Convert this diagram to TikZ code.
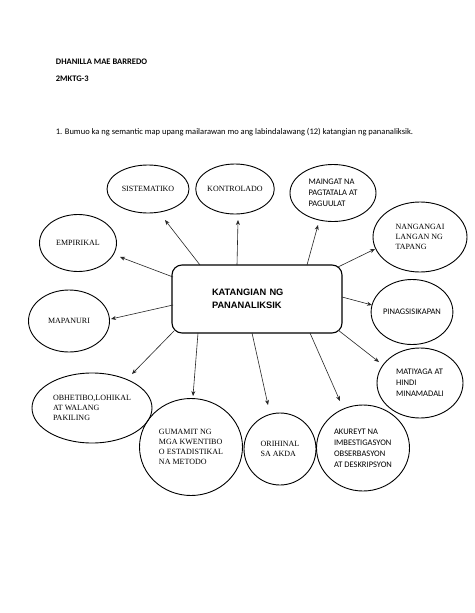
\documentclass[tikz,border=0pt]{standalone}
\usepackage{fontspec}
\setmainfont{Liberation Serif}
\newfontfamily\calib{Carlito}
\newfontfamily\arialf{Liberation Sans}
\usetikzlibrary{shapes.geometric,arrows.meta,calc}
\begin{document}
\begin{tikzpicture}[x=1pt,y=-1pt,
 bub/.style={draw=black, line width=0.9pt, ellipse, inner sep=0pt, align=left},
 serif/.style={font=\fontsize{8}{10}\selectfont},
 sans/.style={font=\calib\fontsize{8.5}{11}\selectfont},
 arr/.style={draw=black!85, line width=0.6pt, -{Stealth[length=5pt,width=4pt]}},
 hdr/.style={anchor=base west, inner sep=0pt, font=\calib\fontsize{8.5}{10}\selectfont},
 hdrb/.style={hdr, font=\calib\bfseries\fontsize{8.5}{10}\selectfont}]
\useasboundingbox[fill=white] (0,0) rectangle (474,613);

\node[hdrb] (name) at (55.7,64.3) {DHANILLA MAE BARREDO};
\node[hdrb] (sec) at (55.7,81.7) {2MKTG-3};
\node[hdr] (ins) at (55.7,134) {1. Bumuo ka ng semantic map upang mailarawan mo ang labindalawang (12) katangian ng pananaliksik.};

\node[draw=black, line width=1.1pt, rounded corners=10pt, minimum width=170pt, minimum height=68pt, text width=90pt, align=left, font=\arialf\bfseries\fontsize{9.3}{13}\selectfont] (c) at (257,299) {KATANGIAN NG\\PANANALIKSIK};

\node[bub,serif,minimum width=82pt,minimum height=48pt] (sis) at (148,189) {SISTEMATIKO};
\node[bub,serif,minimum width=78pt,minimum height=50pt] (kon) at (235,189) {KONTROLADO};
\node[bub,sans,minimum width=86pt,minimum height=57pt] (mai) at (333,193) {MAINGAT NA\\PAGTATALA AT\\PAGUULAT};
\node[bub,serif,minimum width=94pt,minimum height=70pt] (nan) at (420,237) {NANGANGAI\\LANGAN NG\\TAPANG};
\node[bub,serif,minimum width=77pt,minimum height=57pt] (emp) at (78,243) {EMPIRIKAL};
\node[bub,serif,minimum width=81pt,minimum height=62pt] (map) at (69,321) {MAPANURI};
\node[bub,sans,minimum width=80pt,minimum height=65pt] (pin) at (412,312) {PINAGSISIKAPAN};
\node[bub,sans,minimum width=86pt,minimum height=70pt] (mat) at (420,383) {MATIYAGA AT\\HINDI\\MINAMADALI};
\node[bub,serif,minimum width=120pt,minimum height=70pt] (obh) at (92,408) {OBHETIBO,LOHIKAL\\AT WALANG\\PAKILING};
\node[bub,serif,minimum width=103pt,minimum height=97pt] (gum) at (191,447) {GUMAMIT NG\\MGA KWENTIBO\\O ESTADISTIKAL\\NA METODO};
\node[bub,serif,minimum width=72pt,minimum height=72pt] (ori) at (280,449) {ORIHINAL\\SA AKDA};
\node[bub,sans,minimum width=93pt,minimum height=86pt] (aku) at (363,448) {AKUREYT NA\\IMBESTIGASYON\\OBSERBASYON\\AT DESKRIPSYON};

\draw[arr] ($(c)+(-57,-34)$) -- ($(sis)+(17,31)$);
\draw[arr] ($(c)+(-20,-34)$) -- ($(kon)+(3,31)$);
\draw[arr] ($(c)+(50,-34)$) -- ($(mai)+(-15,32)$);
\draw[arr] ($(c)+(81,-32)$) -- ($(nan)+(-45,12)$);
\draw[arr] ($(c)+(-84,-22)$) -- ($(emp)+(42,14)$);
\draw[arr] ($(c)+(-84,6)$) -- ($(map)+(42,-2)$);
\draw[arr] ($(c)+(-83,32)$) -- ($(obh)+(40,-34)$);
\draw[arr] ($(c)+(-59,34)$) -- ($(gum)+(2,-51)$);
\draw[arr] ($(c)+(-5,34)$) -- ($(ori)+(-12,-44)$);
\draw[arr] ($(c)+(53,34)$) -- ($(aku)+(-23,-47)$);
\draw[arr] ($(c)+(85,-2)$) -- ($(pin)+(-40,-7)$);
\draw[arr] ($(c)+(81,31)$) -- ($(mat)+(-41,-21)$);
\end{tikzpicture}
\end{document}
